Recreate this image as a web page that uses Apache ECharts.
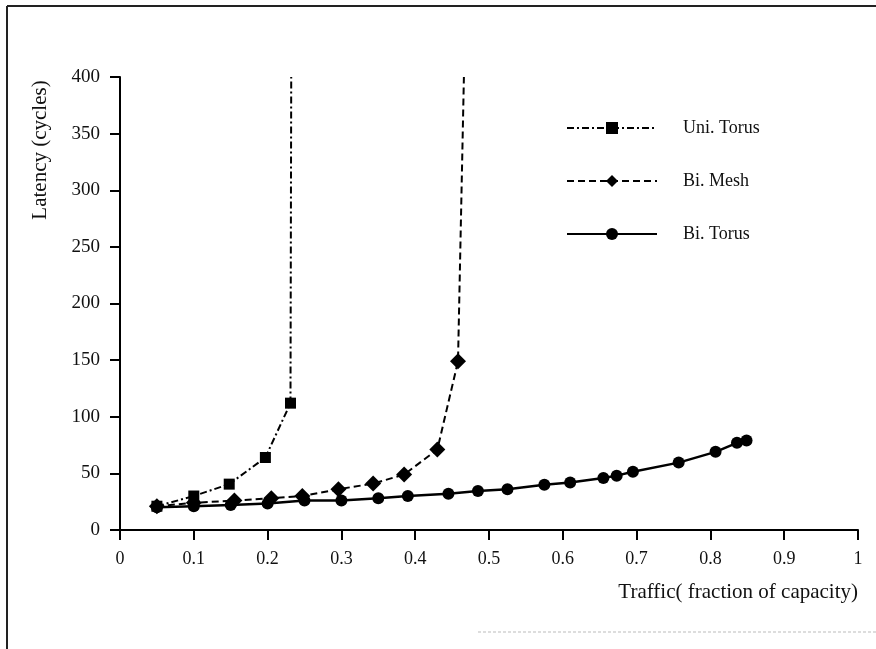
<!DOCTYPE html>
<html>
<head>
<meta charset="utf-8">
<script src="https://cdn.jsdelivr.net/npm/echarts@6/dist/echarts.min.js"></script>
<style>
  html, body { margin: 0; padding: 0; background: #fff; }
  #chart { width: 876px; height: 649px; }
</style>
</head>
<body>
<div id="chart"></div>
<script>
// ---- data ----
const seriesNames = ['Uni. Torus', 'Bi. Mesh', 'Bi. Torus'];

const uniTorusX = [0.05, 0.10, 0.148, 0.197, 0.231, 0.232];
const uniTorusY = [21, 30, 40.5, 64, 112, 400];

const biMeshX = [0.05, 0.10, 0.155, 0.205, 0.247, 0.296, 0.343, 0.385, 0.43, 0.458, 0.466];
const biMeshY = [21, 24, 26, 28, 30, 36, 41, 49, 71, 149, 400];

const biTorusX = [0.05, 0.10, 0.15, 0.20, 0.25, 0.30, 0.35, 0.39, 0.445, 0.485, 0.525, 0.575, 0.61, 0.655, 0.673, 0.695, 0.757, 0.807, 0.836, 0.849];
const biTorusY = [20, 21, 22, 23.5, 26, 26, 28, 30, 32, 34.5, 36, 40, 42, 46, 48, 51.5, 59.5, 69, 77, 79];

const xTicks = [0, 0.1, 0.2, 0.3, 0.4, 0.5, 0.6, 0.7, 0.8, 0.9, 1];
const yTicks = [0, 50, 100, 150, 200, 250, 300, 350, 400];

const xAxisTitle = 'Traffic( fraction of capacity)';
const yAxisTitle = 'Latency (cycles)';

// ---- build ----
function pairs(xs, ys, lastNoSymbol) {
  return xs.map((x, i) => {
    const item = { value: [x, ys[i]] };
    if (lastNoSymbol && i === xs.length - 1) item.symbol = 'none';
    return item;
  });
}

const FONT = '"Liberation Serif", "DejaVu Serif", serif';
const chart = echarts.init(document.getElementById('chart'), null, { renderer: 'canvas' });

chart.setOption({
  backgroundColor: '#ffffff',
  animation: false,
  grid: { left: 120, right: 18, top: 77, bottom: 119, containLabel: false },
  legend: {
    orient: 'vertical',
    left: 561,
    top: 114,
    itemWidth: 90,
    itemHeight: 15,
    itemGap: 35,
    data: seriesNames,
    textStyle: { fontFamily: FONT, fontSize: 18, color: '#111', padding: [0, 0, 0, 21] }
  },
  xAxis: {
    type: 'value',
    min: 0, max: 1, interval: 0.1,
    splitLine: { show: false },
    axisLine: { onZero: false, lineStyle: { color: '#000', width: 2 } },
    axisTick: { show: true, inside: false, length: 10, lineStyle: { color: '#000', width: 2 } },
    axisLabel: {
      margin: 20, fontFamily: FONT, fontSize: 18, color: '#111',
      formatter: v => { const t = xTicks.find(k => Math.abs(k - v) < 1e-9); return t === undefined ? '' : String(t); }
    },
    name: xAxisTitle,
    nameLocation: 'end',
    nameGap: 0,
    nameTextStyle: { fontFamily: FONT, fontSize: 21, color: '#111', align: 'right', verticalAlign: 'top', padding: [52, 0, 0, 0] }
  },
  yAxis: {
    type: 'value',
    min: 0, max: 400, interval: 50,
    splitLine: { show: false },
    axisLine: { onZero: false, lineStyle: { color: '#000', width: 2 } },
    axisTick: { show: true, inside: false, length: 10, lineStyle: { color: '#000', width: 2 } },
    axisLabel: {
      margin: 20, fontFamily: FONT, fontSize: 19, color: '#111',
      formatter: v => { const t = yTicks.find(k => Math.abs(k - v) < 1e-9); return t === undefined ? '' : String(t); }
    }
  },
  graphic: [
    { type: 'line', shape: { x1: 7, y1: 6, x2: 876, y2: 6 }, style: { stroke: '#222', lineWidth: 2 }, silent: true },
    { type: 'line', shape: { x1: 7, y1: 6, x2: 7, y2: 649 }, style: { stroke: '#222', lineWidth: 2 }, silent: true },
    { type: 'line', shape: { x1: 478, y1: 632, x2: 876, y2: 632 }, style: { stroke: '#bbb', lineWidth: 1, lineDash: [3, 2] }, silent: true },
    {
      type: 'text', x: 40, y: 150, rotation: Math.PI / 2,
      style: { text: yAxisTitle, fontFamily: FONT, fontSize: 21, fill: '#111', align: 'center', verticalAlign: 'middle' },
      silent: true
    }
  ],
  series: [
    {
      name: seriesNames[0], type: 'line',
      data: pairs(uniTorusX, uniTorusY, true),
      symbol: 'rect', symbolSize: 11,
      itemStyle: { color: '#000' },
      lineStyle: { color: '#000', width: 2, type: [7, 3, 2, 3] },
      z: 3
    },
    {
      name: seriesNames[1], type: 'line',
      data: pairs(biMeshX, biMeshY, true),
      symbol: 'diamond', symbolSize: 16,
      itemStyle: { color: '#000' },
      lineStyle: { color: '#000', width: 2, type: [7, 4] },
      z: 3
    },
    {
      name: seriesNames[2], type: 'line',
      data: pairs(biTorusX, biTorusY, false),
      symbol: 'circle', symbolSize: 12,
      itemStyle: { color: '#000' },
      lineStyle: { color: '#000', width: 2.5 },
      z: 4
    }
  ]
});
</script>
</body>
</html>
